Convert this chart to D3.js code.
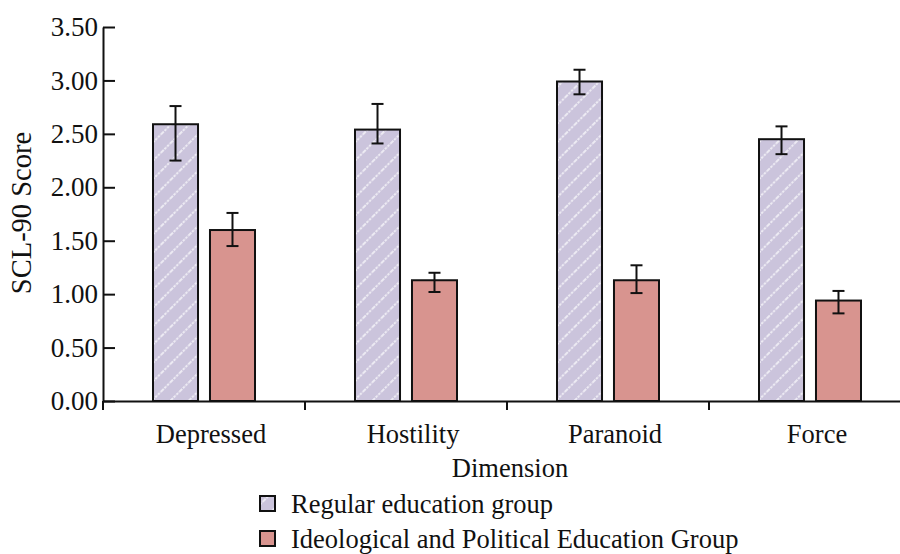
<!DOCTYPE html>
<html>
<head>
<meta charset="utf-8">
<script src="https://cdn.jsdelivr.net/npm/d3@7/dist/d3.min.js"></script>
<style>
  html, body { margin: 0; padding: 0; background: #fff; }
  svg { display: block; }
  text { font-family: "Liberation Serif", "DejaVu Serif", serif; fill: #111; }
</style>
</head>
<body>
<svg id="chart" width="900" height="554"></svg>
<script>
// SCL-90 dimension scores by group
const categories = ["Depressed", "Hostility", "Paranoid", "Force"];
const series = ["Regular education group", "Ideological and Political Education Group"];
const regularMean = [2.59, 2.54, 2.99, 2.45];
const regularLow  = [2.25, 2.41, 2.87, 2.31];
const regularHigh = [2.76, 2.78, 3.10, 2.57];
const ideoMean = [1.60, 1.13, 1.13, 0.94];
const ideoLow  = [1.45, 1.02, 1.01, 0.82];
const ideoHigh = [1.76, 1.20, 1.27, 1.03];
const yTicks = [0, 0.5, 1.0, 1.5, 2.0, 2.5, 3.0, 3.5];

const FS = 26.5;
const svg = d3.select("#chart");
const margin = { left: 103, right: -11, top: 27, bottom: 153 };
const W = 900, H = 554;
const x0 = margin.left, x1 = W - margin.right;
const yBase = H - margin.bottom;

const x = d3.scaleBand().domain(categories).range([x0, x1]).padding(0);
const xi = d3.scaleBand().domain(series)
  .range([x.bandwidth() / 2 - 51, x.bandwidth() / 2 + 51]).paddingInner(0.21);
const y = d3.scaleLinear().domain([0, 3.5]).range([yBase, margin.top]);

// diagonal hatch for the regular group
const defs = svg.append("defs");
const pat = defs.append("pattern").attr("id", "hatch")
  .attr("patternUnits", "userSpaceOnUse").attr("width", 13).attr("height", 13)
  .attr("patternTransform", "rotate(45)");
pat.append("rect").attr("width", 13).attr("height", 13).attr("fill", "#cbc4dc");
pat.append("line").attr("x1", 6).attr("x2", 6).attr("y1", 0).attr("y2", 13)
  .attr("stroke", "#fff").attr("stroke-width", 1.6).attr("stroke-opacity", 0.8)
  .attr("stroke-dasharray", "2.5 1.2");

const fills = ["url(#hatch)", "#d8948f"];

const rows = categories.map((c, i) => ({
  cat: c,
  vals: [
    { s: series[0], m: regularMean[i], lo: regularLow[i], hi: regularHigh[i] },
    { s: series[1], m: ideoMean[i], lo: ideoLow[i], hi: ideoHigh[i] }
  ]
}));

const groups = svg.append("g").selectAll("g").data(rows).join("g")
  .attr("transform", d => `translate(${x(d.cat)},0)`);

groups.selectAll("rect").data(d => d.vals).join("rect")
  .attr("x", d => xi(d.s))
  .attr("width", xi.bandwidth())
  .attr("y", d => y(d.m))
  .attr("height", d => y(0) - y(d.m))
  .attr("fill", (d, i) => fills[i])
  .attr("stroke", "#111").attr("stroke-width", 2);

// error bars
const eb = groups.selectAll("g.err").data(d => d.vals).join("g").attr("class", "err")
  .attr("transform", d => `translate(${xi(d.s) + xi.bandwidth() / 2},0)`)
  .attr("stroke", "#111").attr("stroke-width", 2);
eb.append("line").attr("y1", d => y(d.lo)).attr("y2", d => y(d.hi));
eb.append("line").attr("x1", -6).attr("x2", 6).attr("y1", d => y(d.hi)).attr("y2", d => y(d.hi));
eb.append("line").attr("x1", -6).attr("x2", 6).attr("y1", d => y(d.lo)).attr("y2", d => y(d.lo));

// y axis
const yAxis = svg.append("g").attr("transform", `translate(${x0},0)`)
  .call(d3.axisLeft(y).tickValues(yTicks).tickFormat(d3.format(".2f"))
    .tickSize(-12).tickSizeOuter(0).tickPadding(5));
yAxis.select(".domain").attr("stroke", "#111").attr("stroke-width", 2);
yAxis.selectAll(".tick line").attr("stroke", "#111").attr("stroke-width", 2);
yAxis.selectAll(".tick text").attr("font-size", 27)
  .attr("font-family", "Liberation Serif, serif").attr("fill", "#111");

// x axis: labels under band centres, ticks at band boundaries
const xAxis = svg.append("g").attr("transform", `translate(0,${yBase})`)
  .call(d3.axisBottom(x).tickSize(0).tickSizeOuter(0).tickPadding(23));
xAxis.select(".domain").attr("stroke", "#111").attr("stroke-width", 2);
xAxis.selectAll(".tick text").attr("font-size", FS).attr("dx", 7)
  .attr("font-family", "Liberation Serif, serif").attr("fill", "#111");
xAxis.selectAll("line.sep").data(categories).join("line").attr("class", "sep")
  .attr("x1", d => x(d)).attr("x2", d => x(d))
  .attr("y1", 0).attr("y2", 9)
  .attr("stroke", "#111").attr("stroke-width", 2);

// axis titles
svg.append("text")
  .attr("x", (x0 + x1) / 2 + 3).attr("y", 477)
  .attr("text-anchor", "middle").attr("font-size", FS)
  .text("Dimension");
svg.append("text")
  .attr("transform", `translate(31,${(y(0) + y(3.5)) / 2 - 1}) rotate(-90)`)
  .attr("text-anchor", "middle").attr("font-size", 28.5)
  .text("SCL-90 Score");

// legend
const leg = svg.append("g").attr("transform", "translate(260,496)");
const li = leg.selectAll("g").data(series).join("g")
  .attr("transform", (d, i) => `translate(0,${i * 35})`);
li.append("rect").attr("width", 15).attr("height", 15)
  .attr("fill", (d, i) => fills[i]).attr("stroke", "#111").attr("stroke-width", 2);
li.append("text").attr("x", 31).attr("y", 17).attr("font-size", FS).text(d => d);
</script>
</body>
</html>
